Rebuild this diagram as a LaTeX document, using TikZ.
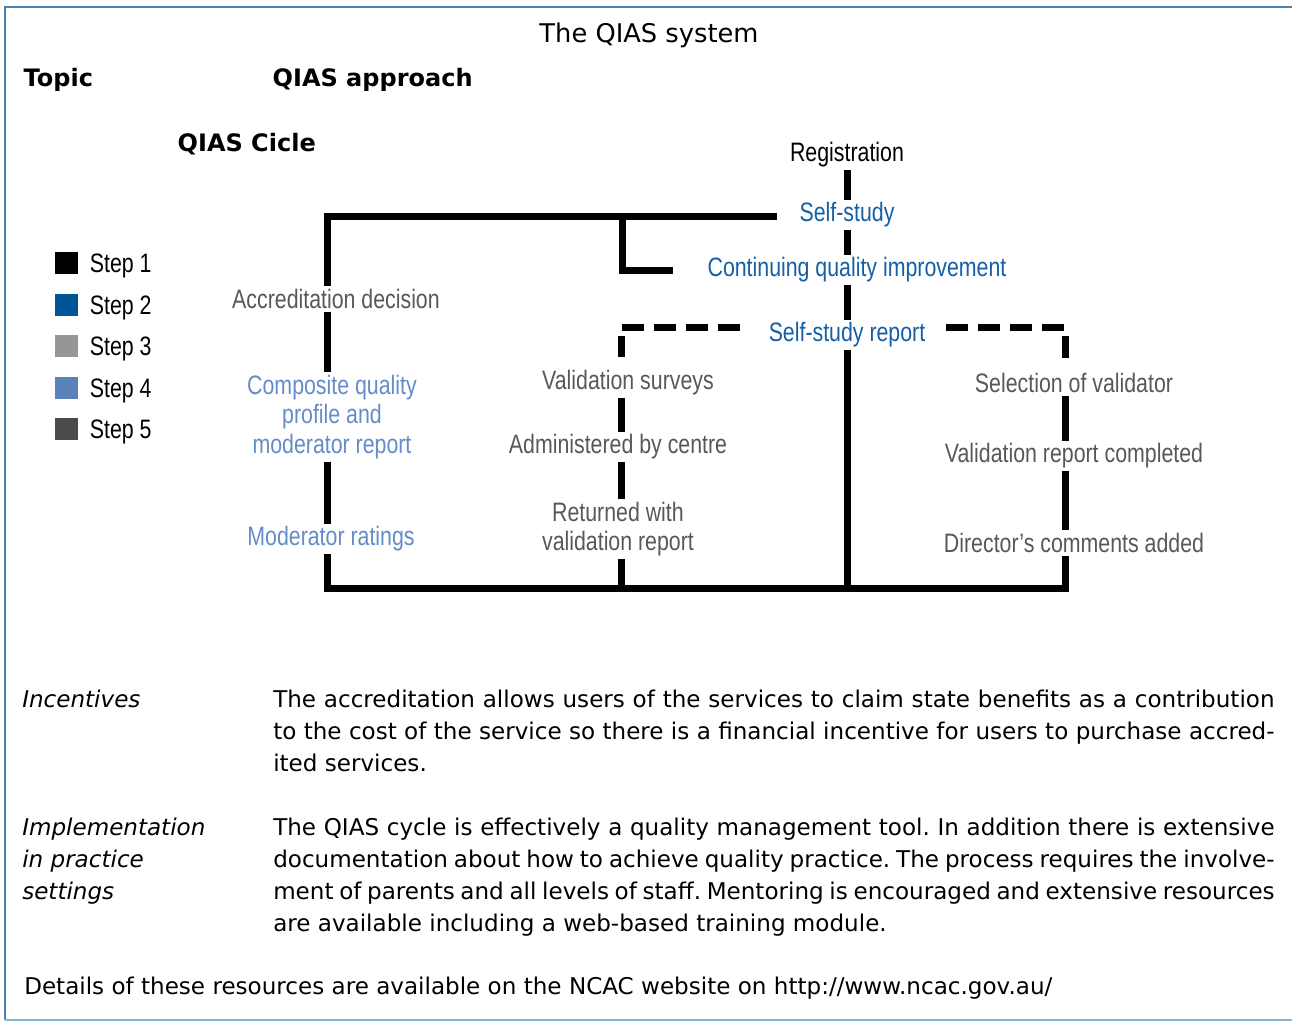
\documentclass[tikz,border=0pt]{standalone}
\usepackage{fontspec}
\setmainfont{DejaVu Sans}
\newfontfamily\narrowsans[FakeStretch=0.8]{Liberation Sans}
\usetikzlibrary{positioning,calc}
\usepackage{xcolor}
\definecolor{step1}{RGB}{0,0,0}
\definecolor{step2}{RGB}{0,85,150}
\definecolor{step3}{RGB}{150,150,150}
\definecolor{step4}{RGB}{90,130,185}
\definecolor{step5}{RGB}{75,75,75}
\definecolor{framecol}{RGB}{70,130,180}
\definecolor{framelow}{RGB}{130,180,215}
\definecolor{txtblue}{RGB}{20,95,165}
\definecolor{txtlight}{RGB}{100,140,200}
\definecolor{txtgray}{RGB}{88,88,88}

\tikzset{
  cyc/.style={font=\narrowsans\fontsize{20}{22}\selectfont, inner sep=2pt, align=center},
  bar/.style={line width=5.25pt, line join=miter},
  dashbar/.style={line width=5.25pt, line join=miter, dash pattern=on 16.5pt off 7.5pt},
  head/.style={anchor=base west, font=\bfseries\fontsize{18}{20}\selectfont},
  bodytext/.style={anchor=north west, inner sep=0pt, text width=751pt, align=justify, font=\frenchspacing\fontsize{17.3}{24}\selectfont},
  topictext/.style={anchor=north west, inner sep=0pt, align=left, font=\itshape\fontsize{17.3}{24}\selectfont}
}

\begin{document}
\begin{tikzpicture}[x=0.75pt, y=-0.75pt]
\useasboundingbox (0,0) rectangle (1292,1021);
% frame
\draw[framecol, line width=1.5pt] (1292,7) -- (5,7) -- (5,1020);
\draw[framelow, line width=1.5pt] (5,1020) -- (1292,1020);

% headings
\node[anchor=base, font=\fontsize{19.3}{24}\selectfont] (title) at (649,42) {The QIAS system};
\node[head] (topic) at (19,86) {Topic};
\node[head] (approach) at (268,86) {QIAS approach};
\node[head] (cicle) at (173,151) {QIAS Cicle};

% legend
\foreach \i/\c in {1/step1,2/step2,3/step3,4/step4,5/step5}{
    \fill[\c] (55,{252+41.5*(\i-1)}) rectangle ++(23,22);
    \node[cyc, anchor=west] (leg\i) at (87,{266+41.5*(\i-1)}) {Step \i};
}

% cycle labels
\node[cyc] (reg) at (847,155) {Registration};
\node[cyc, txtblue] (selfst) at (847,215) {Self-study};
\node[cyc, txtblue] (cqi) at (857,270) {Continuing quality improvement};
\node[cyc, txtblue] (ssrep) at (847,335) {Self-study report};
\node[cyc, txtgray] (accdec) at (336,299) {Accreditation decision};
\node[cyc, txtlight] (compq) at (332,417) {Composite quality\\profile and\\moderator report};
\node[cyc, txtlight] (modrat) at (331,539) {Moderator ratings};
\node[cyc, txtgray] (valsur) at (628,383) {Validation surveys};
\node[cyc, txtgray] (admin) at (618,447) {Administered by centre};
\node[cyc, txtgray] (retval) at (618,529) {Returned with\\validation report};
\node[cyc, txtgray] (selval) at (1074,383) {Selection of validator};
\node[cyc, txtgray] (valrep) at (1074,456) {Validation report completed};
\node[cyc, txtgray] (dircom) at (1074,543) {Director’s comments added};

% corners of the cycle
\coordinate (tl) at (327,216);
\coordinate (tb) at (622,216);
\coordinate (bl) at (327,588);
\coordinate (brc) at (1065,588);
\coordinate (vl) at (621,327);
\coordinate (vr) at (1065,327);
\coordinate (dl) at (740,327);
\coordinate (dr) at (946,327);

% centre line
\draw[bar] (reg) -- (selfst);
\draw[bar] (selfst.south) -- (selfst.south |- cqi.north);
\draw[bar] (selfst.south |- cqi.south) -- (ssrep.north);
\draw[bar] (ssrep.south) -- (ssrep.south |- bl);

% outer loop
\draw[bar] ([xshift=-15pt]selfst.west |- tl) -- (tl) -- (accdec.north -| tl);
\draw[bar] (tb) |- ([xshift=-24pt]cqi.west);
\draw[bar] (accdec.south -| tl) -- (compq.north -| tl);
\draw[bar] (compq.south -| tl) -- (modrat.north -| tl);
\draw[bar] (modrat.south -| tl) -- (bl) -- (brc) -- (dircom.south -| brc);

% validation branches
\draw[dashbar] (dl) -- (vl) -- ([yshift=8pt]vl |- valsur.north);
\draw[bar] (valsur.south -| vl) -- (admin.north -| vl);
\draw[bar] (admin.south -| vl) -- (retval.north -| vl);
\draw[bar] (retval.south -| vl) -- (bl -| vl);
\draw[dashbar] (dr) -- (vr) -- ([yshift=8pt]vr |- selval.north);
\draw[bar] (selval.south -| vr) -- (valrep.north -| vr);
\draw[bar] (valrep.south -| vr) -- (dircom.north -| vr);

% text rows
\node[topictext] (inctopic) at (22,690) {Incentives};
\node[bodytext] (incbody) at (273,690) {The accreditation allows users of the services to claim state benefits as a contribution\linebreak to the cost of the service so there is a financial incentive for users to purchase accred-\linebreak ited services.};
\node[topictext] (imptopic) at (22,818) {Implementation\\in practice\\settings};
\node[bodytext] (impbody) at (273,818) {The QIAS cycle is effectively a quality management tool. In addition there is extensive\linebreak documentation about how to achieve quality practice. The process requires the involve-\linebreak ment of parents and all levels of staff. Mentoring is encouraged and extensive resources\linebreak are available including a web-based training module.};
\node[anchor=base west, inner sep=0pt, font=\fontsize{17.3}{24}\selectfont] (details) at (24,994) {Details of these resources are available on the NCAC website on http://www.ncac.gov.au/};
\end{tikzpicture}
\end{document}
